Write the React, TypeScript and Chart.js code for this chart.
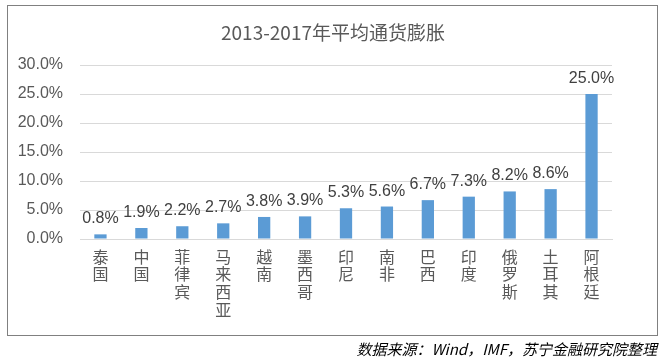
import React, { useEffect, useRef } from "react";
import { Chart, registerables } from "chart.js";

Chart.register(...registerables);

const categories = ["泰国", "中国", "菲律宾", "马来西亚", "越南", "墨西哥", "印尼", "南非", "巴西", "印度", "俄罗斯", "土耳其", "阿根廷"];
const inflation = [0.8, 1.9, 2.2, 2.7, 3.8, 3.9, 5.3, 5.6, 6.7, 7.3, 8.2, 8.6, 25.0];
const yTicks = [0, 5, 10, 15, 20, 25, 30];
const titleText = "2013-2017年平均通货膨胀";
const sourceText = "数据来源：Wind，IMF，苏宁金融研究院整理";

const NUM_FONT = "'Liberation Sans', 'Noto Sans CJK SC', sans-serif";
const CJK_FONT = "'Noto Sans CJK SC', 'Liberation Sans', sans-serif";

const valueLabels = {
  id: "valueLabels",
  afterDatasetsDraw(chart: any) {
    const ctx = chart.ctx;
    const meta = chart.getDatasetMeta(0);
    ctx.save();
    ctx.font = `16px ${NUM_FONT}`;
    ctx.fillStyle = "#404040";
    ctx.textAlign = "center";
    ctx.textBaseline = "alphabetic";
    meta.data.forEach((bar: any, i: number) => {
      const v = chart.data.datasets[0].data[i] as number;
      ctx.fillText(v.toFixed(1) + "%", bar.x, bar.y - 11);
    });
    ctx.restore();
  },
};

const centeredTitle = {
  id: "centeredTitle",
  afterDraw(chart: any) {
    const ctx = chart.ctx;
    ctx.save();
    ctx.font = `19px ${CJK_FONT}`;
    ctx.fillStyle = "#595959";
    ctx.textAlign = "center";
    ctx.textBaseline = "middle";
    ctx.fillText(titleText, 333, 33);
    ctx.restore();
  },
};

export default function App() {
  const ref = useRef<HTMLCanvasElement | null>(null);
  useEffect(() => {
    if (!ref.current) return;
    const chart = new Chart(ref.current, {
      type: "bar",
      data: {
        labels: categories.map((c) => c.split("")),
        datasets: [
          {
            data: inflation,
            backgroundColor: "#5B9BD5",
            barPercentage: 0.3,
            categoryPercentage: 1,
          },
        ],
      },
      options: {
        responsive: false,
        animation: false,
        layout: { padding: { top: 65, right: 55, bottom: 25, left: 0 } },
        plugins: {
          legend: { display: false },
          tooltip: { enabled: false },
          title: { display: false },
        },
        scales: {
          x: {
            grid: { display: false, drawTicks: false },
            border: { display: true, color: "#d9d9d9", width: 1 },
            ticks: {
              color: "#595959",
              font: { size: 16, family: CJK_FONT, lineHeight: 1.1 },
              padding: 9,
              maxRotation: 0,
              minRotation: 0,
              autoSkip: false,
            },
            afterFit: (s: any) => {
              s.height = 100;
            },
          },
          y: {
            min: 0,
            max: 30,
            afterBuildTicks: (s: any) => {
              s.ticks = yTicks.map((v) => ({ value: v }));
            },
            grid: { color: "#d9d9d9", drawTicks: false },
            border: { display: false },
            ticks: {
              color: "#595959",
              font: { size: 16, family: NUM_FONT },
              padding: 17,
              callback: (v: any) => Number(v).toFixed(1) + "%",
            },
            afterFit: (s: any) => {
              s.width = 80;
            },
          },
        },
      },
      plugins: [valueLabels, centeredTitle],
    });
    return () => chart.destroy();
  }, []);

  return (
    <div style={{ position: "absolute", left: 0, top: 0, width: 667, height: 364, background: "#fff" }}>
      <div
        style={{
          position: "absolute",
          left: 7,
          top: 5,
          width: 651,
          height: 331,
          boxSizing: "border-box",
          border: "1px solid #808080",
        }}
      />
      <canvas ref={ref} width={667} height={364} style={{ position: "absolute", left: 0, top: 0 }} />
      <div
        style={{
          position: "absolute",
          right: 10,
          top: 339,
          fontFamily: CJK_FONT,
          fontSize: 15,
          fontStyle: "italic",
          color: "#000",
          whiteSpace: "nowrap",
          lineHeight: "20px",
        }}
      >
        {sourceText}
      </div>
    </div>
  );
}
